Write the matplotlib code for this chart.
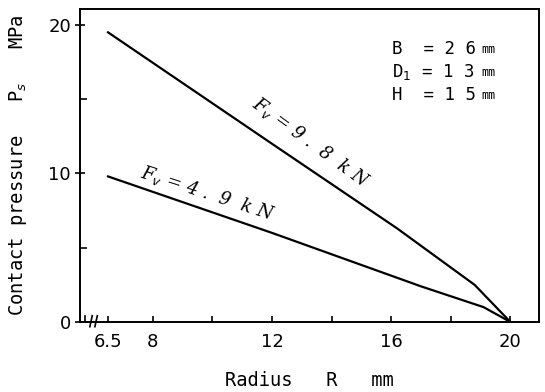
import matplotlib.pyplot as plt
from matplotlib.ticker import FixedLocator

r_hi = [6.5, 12.0, 16.2, 18.8, 20.0]
p_hi = [19.5, 12.0, 6.3, 2.5, 0.0]
r_lo = [6.5, 12.0, 17.0, 19.1, 20.0]
p_lo = [9.8, 6.0, 2.4, 1.0, 0.0]

x_major = [6.5, 8, 12, 16, 20]
x_labels = ["6.5", "8", "12", "16", "20"]
x_minor = [10, 14, 18]
y_major = [0, 10, 20]
y_minor = [5, 15]

mono = "DejaVu Sans Mono"

fig = plt.figure(figsize=(5.45, 3.92), dpi=100)
ax = fig.add_axes([0.1468, 0.1786, 0.989 - 0.1468, 0.977 - 0.1786])

ax.plot(r_hi, p_hi, color="black", lw=1.6)
ax.plot(r_lo, p_lo, color="black", lw=1.6)

ax.set_xlim(5.56, 20.96)
ax.set_ylim(0, 21.07)

ax.xaxis.set_major_locator(FixedLocator(x_major))
ax.set_xticklabels(x_labels)
ax.xaxis.set_minor_locator(FixedLocator(x_minor))
ax.yaxis.set_major_locator(FixedLocator(y_major))
ax.yaxis.set_minor_locator(FixedLocator(y_minor))

ax.tick_params(axis="x", which="both", direction="in", length=4, width=1.2,
               pad=8, labelsize=13)
ax.tick_params(axis="y", which="major", direction="inout", length=7, width=1.2,
               pad=3, labelsize=13)
ax.tick_params(axis="y", which="minor", direction="in", length=5, width=1.2)
for s in ax.spines.values():
    s.set_linewidth(1.4)

# axis break marks near the origin
tr = ax.get_xaxis_transform()
ax.plot([5.73, 5.73], [0, 0.02], color="black", lw=1.2, transform=tr, clip_on=False)
for xb in [5.93, 6.1]:
    ax.plot([xb - 0.04, xb + 0.04], [-0.015, 0.02], color="black", lw=1.2,
            transform=tr, clip_on=False)

ax.set_xlabel("Radius   R   mm", family=mono, fontsize=13.5, labelpad=14)
ax.set_ylabel("Contact pressure   P$_s$   MPa", family=mono, fontsize=13.5,
              labelpad=14)

ax.text(13.3, 12.1, "F$_v$ = 9 .  8  k N", rotation=-36, family="DejaVu Serif",
        style="italic", fontsize=13, ha="center", va="center",
        rotation_mode="anchor")
ax.text(9.85, 8.65, "F$_v$ = 4 .  9  k N", rotation=-18, family="DejaVu Serif",
        style="italic", fontsize=13, ha="center", va="center",
        rotation_mode="anchor")

spec = ["B  = 2 6", "D$_1$ = 1 3", "H  = 1 5"]
for i, line in enumerate(spec):
    y = 0.872 - i * 0.0735
    ax.text(0.68, y, line, transform=ax.transAxes, family=mono, fontsize=12.5,
            va="center")
    ax.text(0.875, y, "mm", transform=ax.transAxes, family=mono, fontsize=8.5,
            va="center")

fig.savefig("out.png", dpi=100)
